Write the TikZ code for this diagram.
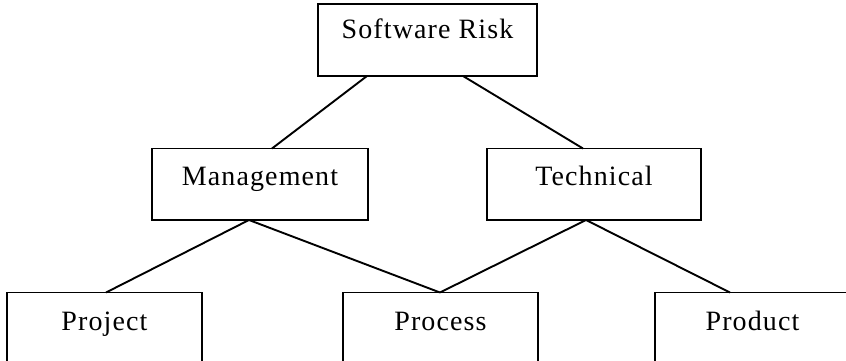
\documentclass[tikz,border=0pt]{standalone}
\usepackage{fontspec}
\setmainfont{Liberation Serif}[LetterSpace=4]
\begin{document}
\begin{tikzpicture}[x=1pt,y=-1pt,
  box/.style={draw, line width=1.9pt, rectangle, inner sep=0pt, outer sep=0pt,
    anchor=base, font=\fontsize{28}{30}\selectfont},
  link/.style={line width=1.9pt}]
\useasboundingbox (0,0) rectangle (846,361);
\clip (0,0) rectangle (846,361);
% top level
\node[box, minimum width=219pt, text height=35pt, text depth=37pt] (sr) at (427.5,39) {Software Risk};
% middle level
\node[box, minimum width=216pt, text height=36.5pt, text depth=35pt] (mg) at (260,185) {Management};
\node[box, minimum width=214pt, text height=36.5pt, text depth=35pt] (tc) at (594,185) {Technical};
% bottom level
\node[box, minimum width=195pt, text height=37.5pt, text depth=45pt] (pj) at (104.5,330) {Project};
\node[box, minimum width=195pt, text height=37.5pt, text depth=45pt] (pc) at (440.5,330) {Process};
\node[box, minimum width=195pt, text height=37.5pt, text depth=45pt] (pd) at (752.5,330) {Product};
% connectors
\draw[link] ([xshift=49pt]sr.south west) -- ([xshift=120pt]mg.north west);
\draw[link] ([xshift=145pt]sr.south west) -- ([xshift=96pt]tc.north west);
\draw[link] ([xshift=97pt]mg.south west) -- ([xshift=99pt]pj.north west);
\draw[link] ([xshift=97pt]mg.south west) -- ([xshift=97pt]pc.north west);
\draw[link] ([xshift=99pt]tc.south west) -- ([xshift=97pt]pc.north west);
\draw[link] ([xshift=99pt]tc.south west) -- ([xshift=75pt]pd.north west);
\end{tikzpicture}
\end{document}
